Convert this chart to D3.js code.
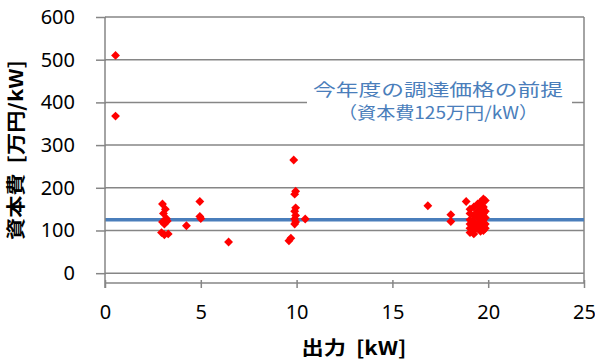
<!DOCTYPE html>
<html lang="ja">
<head>
<meta charset="UTF-8">
<title>資本費と出力</title>
<script src="https://d3js.org/d3.v7.min.js"></script>
<style>
  body { margin: 0; background: #fff; }
  text { font-family: "Noto Sans", "Liberation Sans", sans-serif; white-space: pre; }
  .jp { font-family: "Noto Sans CJK JP", sans-serif; }
</style>
</head>
<body>
<svg width="595" height="363"></svg>
<script>
// output [kW] and capital cost [万円/kW] of each plant
const outputKW = [
  0.55, 0.55,
  3.0, 3.15, 3.05, 3.2, 3.0, 3.1, 3.25, 2.95, 3.1, 3.3,
  4.25, 4.95, 4.95, 5.0, 6.45,
  9.85, 9.95, 9.9, 9.95, 9.9, 9.95, 9.9, 9.95, 9.9, 10.45, 9.6, 9.7,
  16.85, 18.05, 18.05, 18.85,
  19.05, 19.05, 19.05, 19.05, 19.05, 19.05,
  19.25, 19.25, 19.25, 19.25, 19.25, 19.25,
  19.45, 19.45, 19.45, 19.45, 19.45,
  19.6, 19.6, 19.6, 19.6, 19.6, 19.6,
  19.75, 19.75, 19.75, 19.75, 19.75, 19.75,
  19.85, 19.85, 19.85, 19.85, 19.85
];
const capitalCost = [
  510, 368,
  162, 150, 140, 128, 120, 115, 122, 95, 90, 92,
  111, 168, 133, 128, 73,
  265, 192, 185, 153, 145, 135, 127, 120, 115, 127, 76, 82,
  158, 137, 121, 168,
  150, 140, 125, 115, 105, 95,
  155, 135, 120, 110, 100, 92,
  162, 145, 130, 115, 105,
  167, 150, 135, 120, 108, 98,
  174, 155, 140, 125, 110, 100,
  170, 145, 130, 115, 105
];
const premiseCost = 125;
const xTicks = [0, 5, 10, 15, 20, 25];
const yTicks = [0, 100, 200, 300, 400, 500, 600];
const noteLines = ["今年度の調達価格の前提", "（資本費125万円/kW）"];

const svg = d3.select("svg");
const gridColor = "#868686";
const blue = "#4A7EBB";

const x = d3.scaleLinear().domain([0, 25]).range([105, 584]);
const y = d3.scaleLinear().domain([-23, 600]).range([283, 17]);

// horizontal gridlines
svg.append("g").selectAll("line").data(yTicks).join("line")
  .attr("x1", x(0)).attr("x2", x(25))
  .attr("y1", d => y(d)).attr("y2", d => y(d))
  .attr("stroke", gridColor).attr("stroke-width", 1.5);

// right border
svg.append("line")
  .attr("x1", x(25)).attr("x2", x(25))
  .attr("y1", y(600)).attr("y2", y(-23))
  .attr("stroke", gridColor).attr("stroke-width", 1.5);

// annotation box (covers the gridline behind it)
svg.append("rect")
  .attr("x", 307).attr("y", 76).attr("width", 265).attr("height", 52)
  .attr("fill", "#fff");

// premise line
svg.append("line")
  .attr("x1", x(0)).attr("x2", x(25))
  .attr("y1", y(premiseCost)).attr("y2", y(premiseCost))
  .attr("stroke", blue).attr("stroke-width", 3.5);

// Y axis
const yAxis = svg.append("g")
  .attr("transform", `translate(${x(0)},0)`)
  .call(d3.axisLeft(y).tickValues(yTicks).tickSize(9).tickPadding(21));
yAxis.select(".domain").remove();
yAxis.selectAll(".tick line").attr("x2", -9).attr("x1", 1)
  .attr("stroke", gridColor).attr("stroke-width", 1.5);
yAxis.selectAll(".tick text").attr("font-size", 20).attr("fill", "#000")
  .attr("font-family", "'Noto Sans', sans-serif");
svg.append("line")
  .attr("x1", x(0)).attr("x2", x(0))
  .attr("y1", y(600)).attr("y2", y(-23) + 5)
  .attr("stroke", gridColor).attr("stroke-width", 1.5);

// X axis
const xAxis = svg.append("g")
  .attr("transform", `translate(0,${y(-23)})`)
  .call(d3.axisBottom(x).tickValues(xTicks).tickSize(5).tickPadding(17));
xAxis.select(".domain").attr("stroke", gridColor).attr("stroke-width", 1.5)
  .attr("d", `M${x(0)},0H${x(25)}`);
xAxis.selectAll(".tick line").attr("y1", -3).attr("y2", 5)
  .attr("stroke", gridColor).attr("stroke-width", 1.5);
xAxis.selectAll(".tick text").attr("font-size", 20).attr("fill", "#000")
  .attr("font-family", "'Noto Sans', sans-serif");

// points
const pts = outputKW.map((v, i) => ({ kw: v, cost: capitalCost[i] }));
svg.append("g").selectAll("path").data(pts).join("path")
  .attr("d", d3.symbol().type(d3.symbolDiamond2).size(50))
  .attr("transform", d => `translate(${x(d.kw)},${y(d.cost)})`)
  .attr("fill", "#ff0000");

// annotation text
const noteWidths = [250, 200];
svg.append("g").selectAll("text").data(noteLines).join("text")
  .attr("class", "jp")
  .attr("x", 438).attr("y", (d, i) => 96 + i * 23)
  .attr("text-anchor", "middle")
  .attr("font-size", 17).attr("fill", blue)
  .attr("textLength", (d, i) => noteWidths[i])
  .attr("lengthAdjust", "spacingAndGlyphs")
  .text(d => d);

// axis titles
svg.append("text").attr("class", "jp")
  .attr("x", 354).attr("y", 355)
  .attr("text-anchor", "middle").attr("font-size", 19).attr("font-weight", "bold")
  .attr("textLength", 105).attr("lengthAdjust", "spacingAndGlyphs")
  .text("出力  [kW]");
svg.append("text").attr("class", "jp")
  .attr("transform", "translate(23,150) rotate(-90)")
  .attr("text-anchor", "middle").attr("font-size", 19).attr("font-weight", "bold")
  .attr("textLength", 180).attr("lengthAdjust", "spacingAndGlyphs")
  .text("資本費  [万円/kW]");
</script>
</body>
</html>
